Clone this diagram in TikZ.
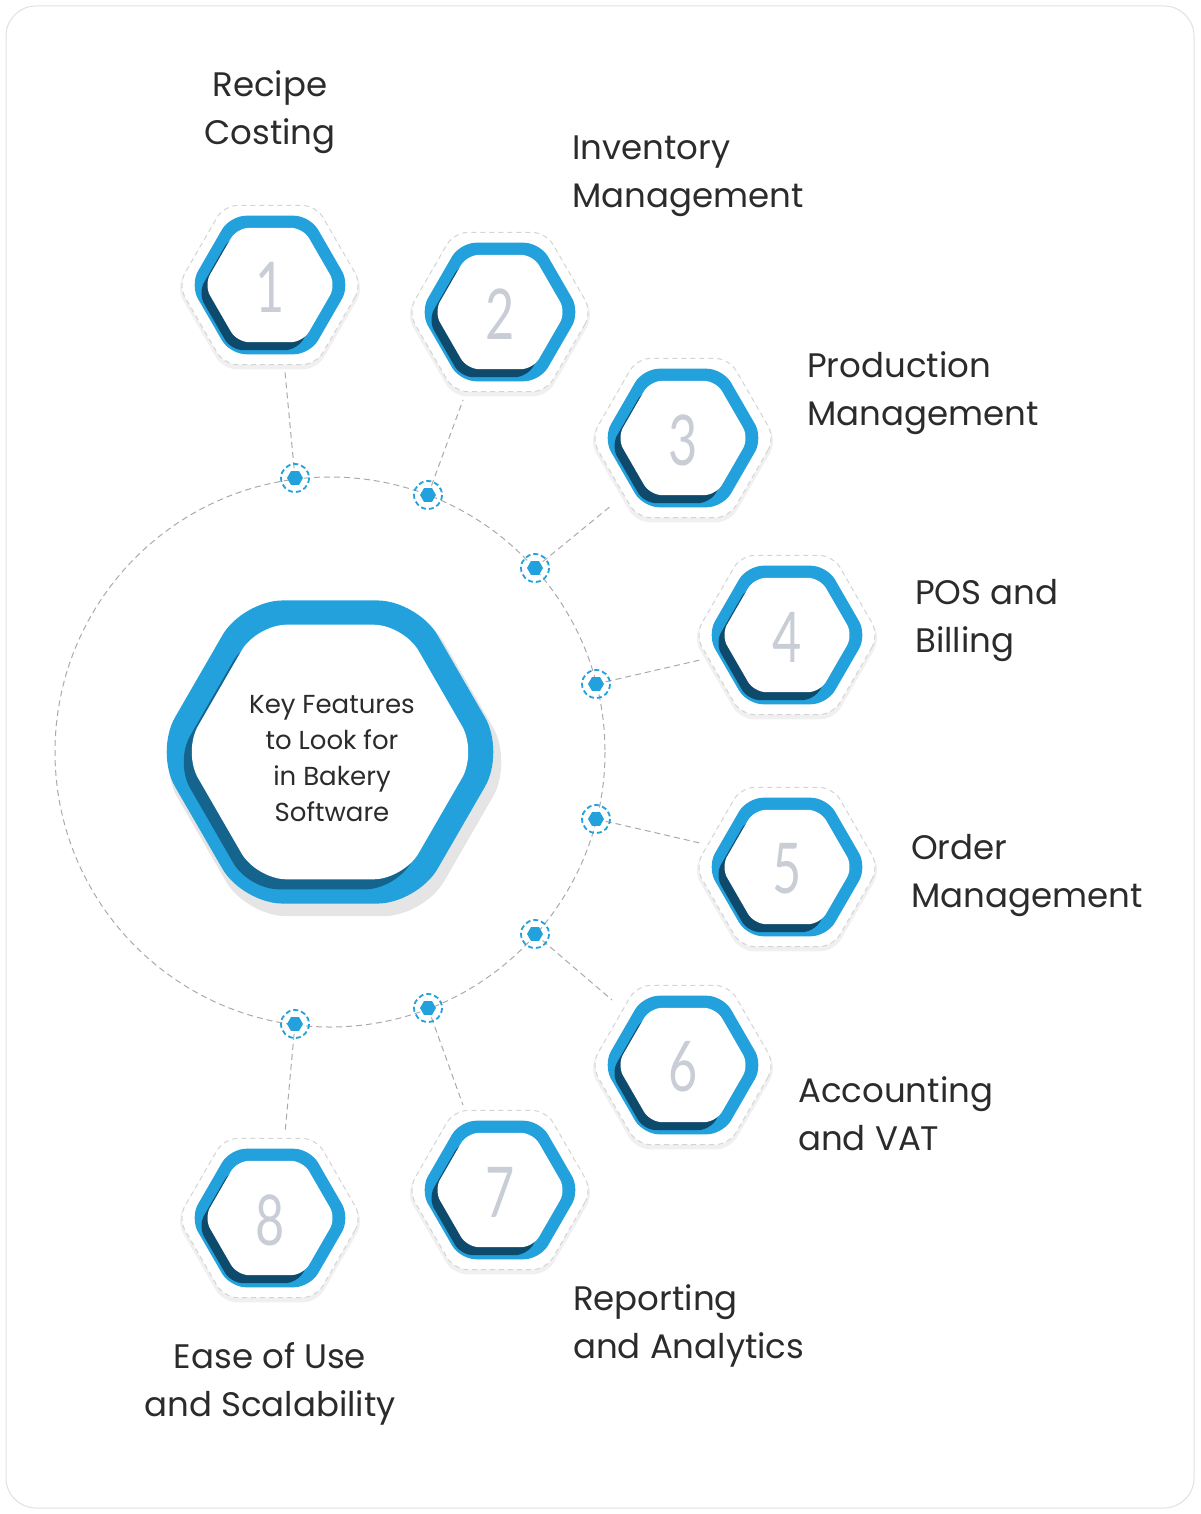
\documentclass[tikz,border=0pt]{standalone}
\usepackage{fontspec}
\setmainfont{Poppins}
\newfontfamily\numfont{Lato}
\definecolor{hblue}{HTML}{22A1DC}
\definecolor{hdark}{HTML}{0E4A6B}
\definecolor{hgrey}{HTML}{C9CDD6}
\definecolor{lgrey}{HTML}{D4D4D4}
\definecolor{txt}{HTML}{2B2B2B}
\newcommand{\hexp}[3]{(#1+#3,#2) -- (#1+0.5*#3,#2+0.866*#3) -- (#1-0.5*#3,#2+0.866*#3) -- (#1-#3,#2) -- (#1-0.5*#3,#2-0.866*#3) -- (#1+0.5*#3,#2-0.866*#3) -- cycle}
\newcommand{\feat}[4]{%
  \fill[black!6,rounded corners=14] \hexp{#1}{#2+3}{94};
  \fill[white,rounded corners=14] \hexp{#1}{#2}{92};
  \draw[lgrey,dash pattern=on 5 off 4,line width=1,rounded corners=14] \hexp{#1}{#2}{92};
  \fill[hblue,rounded corners=16] \hexp{#1}{#2}{80};
  \fill[hdark,rounded corners=12] \hexp{#1-6}{#2+8}{66};
  \fill[white,rounded corners=12] \hexp{#1}{#2}{66};
  \node[font=\numfont\fontsize{70}{70}\selectfont,text=hgrey,xscale=0.72] (#4) at (#1,#2+2) {#3};}
\newcommand{\dotm}[3]{%
  \fill[hblue] \hexp{#1}{#2}{8};
  \draw[hblue,line width=1.8,dash pattern=on 5 off 3] (#1,#2) circle (14);
  \coordinate (#3) at (#1,#2);}
\begin{document}
\begin{tikzpicture}[x=1pt,y=-1pt,
  lbl/.style={font=\fontsize{34}{48}\selectfont,text=txt,align=left,anchor=north west,inner sep=0},
  conn/.style={lgrey!80!black,dash pattern=on 6 off 4,line width=1}]
\useasboundingbox (0,0) rectangle (1200,1514);
\draw[black!12,line width=1,rounded corners=30] (6,6) rectangle (1194,1508);
% big circle
\draw[conn] (330,752) circle (275);
% connectors
\coordinate (e1) at (285,372); \coordinate (e2) at (463,400); \coordinate (e3) at (612,505);
\coordinate (e4) at (700,660); \coordinate (e5) at (700,843); \coordinate (e6) at (612,1000);
\coordinate (e7) at (463,1105); \coordinate (e8) at (285,1133);
\coordinate (d1) at (295,478); \coordinate (d2) at (428,495); \coordinate (d3) at (535,568);
\coordinate (d4) at (596,684); \coordinate (d5) at (596,819); \coordinate (d6) at (535,934);
\coordinate (d7) at (428,1008); \coordinate (d8) at (295,1024);
\foreach \i in {1,...,8} \draw[conn] (d\i) -- (e\i);
% big hex
\fill[black!10,rounded corners=40] \hexp{335}{762}{178};
\fill[hblue,rounded corners=40] \hexp{330}{752}{175};
\fill[hdark!70!hblue,rounded corners=30] \hexp{322}{762}{147};
\fill[white,rounded corners=30] \hexp{330}{752}{147};
\node[font=\fontsize{26}{36}\selectfont,text=txt,align=center] (center) at (332,759) {Key Features\\to Look for\\in Bakery\\Software};
% features
\feat{270}{285}{1}{h1}
\feat{500}{312}{2}{h2}
\feat{683}{438}{3}{h3}
\feat{787}{635}{4}{h4}
\feat{787}{867}{5}{h5}
\feat{683}{1065}{6}{h6}
\feat{500}{1190}{7}{h7}
\feat{270}{1218}{8}{h8}
% dots
\dotm{295}{478}{m1}\dotm{428}{495}{m2}\dotm{535}{568}{m3}\dotm{596}{684}{m4}
\dotm{596}{819}{m5}\dotm{535}{934}{m6}\dotm{428}{1008}{m7}\dotm{295}{1024}{m8}
% labels
\node[lbl,align=center,anchor=north] (t1) at (270,70) {Recipe\\Costing};
\node[lbl] (t2) at (572,136) {Inventory\\Management};
\node[lbl] (t3) at (807,351) {Production\\Management};
\node[lbl] (t4) at (915,579) {POS and\\Billing};
\node[lbl] (t5) at (911,834) {Order\\Management};
\node[lbl] (t6) at (798,1076) {Accounting\\and VAT};
\node[lbl] (t7) at (573,1284) {Reporting\\and Analytics};
\node[lbl,align=center,anchor=north] (t8) at (270,1342) {Ease of Use\\and Scalability};
\end{tikzpicture}
\end{document}
